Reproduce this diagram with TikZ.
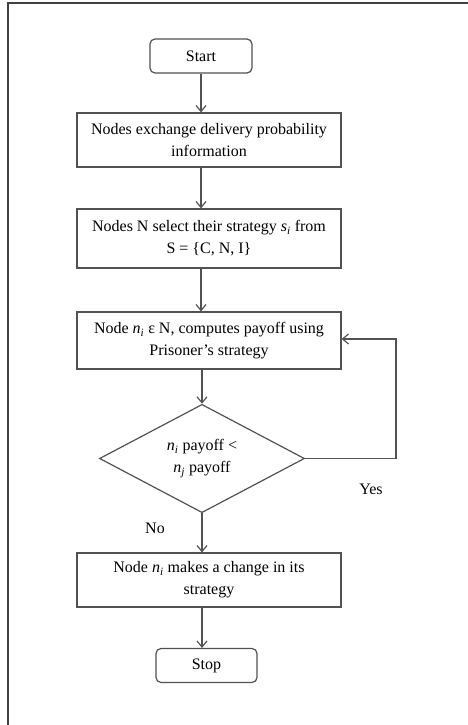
\documentclass[tikz,border=0pt]{standalone}
\usepackage{fontspec}
\setmainfont{Liberation Serif}
\usetikzlibrary{arrows.meta,shapes.geometric}
\newcommand{\vsub}[2]{\textit{#1}\textsubscript{\textit{#2}}}
\begin{document}
\begin{tikzpicture}[x=1pt,y=-1pt,
  lc/.style={draw=black!68, line width=1.2pt},
  term/.style={lc, rounded corners=5pt, minimum height=34pt, inner sep=0pt},
  proc/.style={lc, minimum width=264pt, minimum height=56pt, inner sep=0pt, align=center},
  flow/.style={lc, -{Straight Barb[length=6pt,width=10pt]}},
  lbl/.style={inner sep=0pt},
  font=\fontsize{16}{22}\selectfont]
\useasboundingbox (0,0) rectangle (468,725);
\draw[draw=black!75, line width=2pt] (468,3.5) -- (8,3.5) -- (8,725);

\node[term, minimum width=102pt] (start) at (201,56) {Start};
\node[proc, minimum height=54pt] (b1) at (209,140) {Nodes exchange delivery probability\\information};
\node[proc, minimum height=59pt] (b2) at (209,238.5) {Nodes N select their strategy \vsub{s}{i} from\\S = \{C, N, I\}};
\node[proc, minimum height=57pt] (b3) at (209,340.5) {Node \vsub{n}{i} ε N, computes payoff using\\Prisoner’s strategy};
\node[lc, diamond, minimum width=205pt, minimum height=104pt, inner sep=0pt, align=center] (d) at (202,458.5) {\vsub{n}{i} payoff <\\\vsub{n}{j} payoff};
\node[proc, minimum height=54pt] (b4) at (209,580) {Node \vsub{n}{i} makes a change in its\\strategy};
\node[term, minimum width=101pt] (stop) at (206.5,665.5) {Stop};

\node[lbl] (yes) at (371,489) {Yes};
\node[lbl] (no) at (155,528) {No};

\coordinate (r1) at (396,458.5);
\coordinate (r2) at (396,339);

\draw[flow] (start.south -| 201,0) -- (b1.north -| 201,0);
\draw[flow] (b1.south -| 201,0) -- (b2.north -| 201,0);
\draw[flow] (b2.south -| 201,0) -- (b3.north -| 201,0);
\draw[flow] (b3.south -| d.north) -- (d.north);
\draw[flow] (d.south) -- (b4.north -| d.south);
\draw[flow] (b4.south -| 202,0) -- (stop.north -| 202,0);
\draw[flow] (d.east) -- (r1) -- (r2) -- (b3.east |- r2);
\end{tikzpicture}
\end{document}
